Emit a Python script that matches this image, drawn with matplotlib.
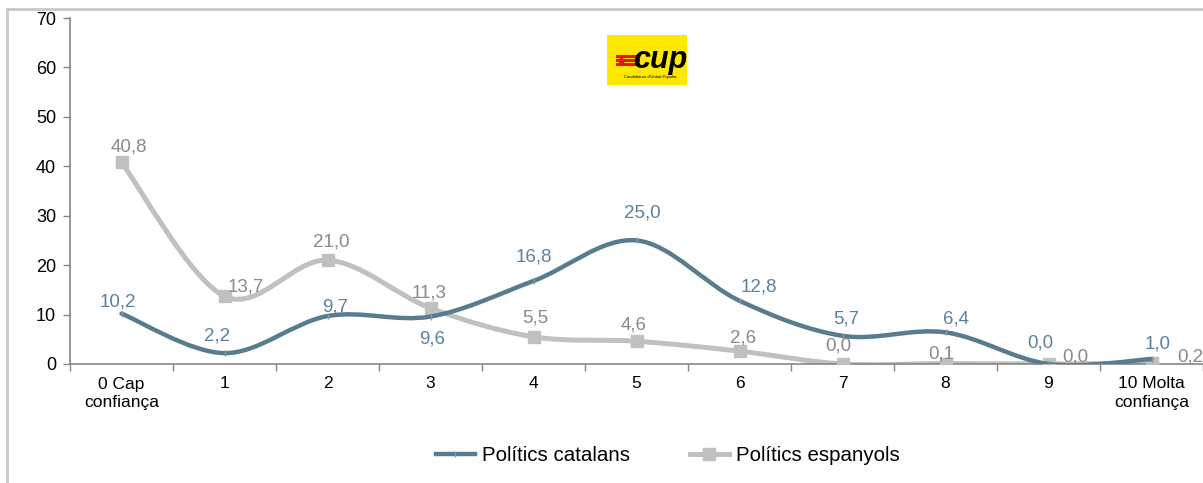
import matplotlib
matplotlib.use("Agg")
import matplotlib.pyplot as plt
import numpy as np
from matplotlib.path import Path
from matplotlib.patches import PathPatch, Rectangle
from matplotlib.lines import Line2D

plt.rcParams["font.family"] = ["Liberation Sans", "DejaVu Sans"]

categories = ["0 Cap\nconfiança", "1", "2", "3", "4", "5", "6", "7", "8", "9", "10 Molta\nconfiança"]
catalans = [10.2, 2.2, 9.7, 9.6, 16.8, 25.0, 12.8, 5.7, 6.4, 0.0, 1.0]
espanyols = [40.8, 13.7, 21.0, 11.3, 5.5, 4.6, 2.6, 0.0, 0.1, 0.0, 0.2]
series_names = ["Polítics catalans", "Polítics espanyols"]

# desplaçament de cada etiqueta respecte del punt, en píxels (dx, amunt)
cat_label_off = [(-4, 12), (-7, 17), (8, 9), (2, -22), (0, 24), (6, 27), (19, 14),
                 (4, 17), (10, 13), (-8, 21), (6, 15)]
esp_label_off = [(7, 15), (21, 9), (4, 18), (-1, 15), (2, 19), (-3, 16), (4, 13),
                 (-4, 18), (-4, 10), (27, 7), (39, 6)]

BLUE = "#587b90"
BLUE_TXT = "#5b8299"
GREY = "#c0c0c0"
GREY_TXT = "#8a8a8a"
AXIS = "#868686"


def smooth_path(xs, ys):
    """Corba suavitzada estil Excel: Bézier cúbica a partir dels punts."""
    pts = np.column_stack([xs, ys]).astype(float)
    n = len(pts)
    verts = [pts[0]]
    codes = [Path.MOVETO]
    for i in range(n - 1):
        p0 = pts[max(i - 1, 0)]
        p1 = pts[i]
        p2 = pts[i + 1]
        p3 = pts[min(i + 2, n - 1)]
        verts += [p1 + (p2 - p0) / 6, p2 - (p3 - p1) / 6, p2]
        codes += [Path.CURVE4] * 3
    return Path(verts, codes)


W, H = 1203, 483
fig = plt.figure(figsize=(W / 100, H / 100), dpi=100)
fig.patch.set_facecolor("white")

# marc exterior del gràfic
fig.add_artist(Line2D([7 / W, 7 / W], [0, 1 - 9 / H], color="#c8c8c8", lw=2))
fig.add_artist(Line2D([7 / W, 1], [1 - 9 / H, 1 - 9 / H], color="#c8c8c8", lw=2))

ax = fig.add_axes([70 / W, 119 / H, (W - 70) / W, 346 / H])
x = np.arange(len(categories))

ax.add_patch(PathPatch(smooth_path(x, espanyols), fill=False, edgecolor=GREY, lw=3.6,
                       capstyle="round", zorder=2))
ax.plot(x, espanyols, linestyle="none", marker="s", markersize=8.5, color=GREY, zorder=3)
ax.add_patch(PathPatch(smooth_path(x, catalans), fill=False, edgecolor=BLUE, lw=3.2,
                       capstyle="round", zorder=4))
ax.plot(x, catalans, linestyle="none", marker="|", markersize=4, mew=1, color="#7f9bad", zorder=5)

for xi, v, (dx, dy) in zip(x, catalans, cat_label_off):
    ax.annotate(f"{v:.1f}".replace(".", ","), (xi, v), xytext=(dx * 0.72, dy * 0.72),
                textcoords="offset points", ha="center", va="center",
                fontsize=13.5, color=BLUE_TXT, zorder=6, annotation_clip=False)
for xi, v, (dx, dy) in zip(x, espanyols, esp_label_off):
    ax.annotate(f"{v:.1f}".replace(".", ","), (xi, v), xytext=(dx * 0.72, dy * 0.72),
                textcoords="offset points", ha="center", va="center",
                fontsize=13.5, color=GREY_TXT, zorder=6, annotation_clip=False)

ax.set_xlim(-0.5, len(categories) - 0.5)
ax.set_ylim(0, 70)
ax.set_yticks(range(0, 71, 10))
ax.set_xticks(x)
ax.set_xticklabels(categories, linespacing=1.25)
ax.set_xticks(np.arange(-0.5, len(categories), 1.0), minor=True)
ax.tick_params(axis="x", which="major", length=0, pad=9, labelsize=12.5)
ax.tick_params(axis="x", which="minor", length=5, width=1, color=AXIS)
ax.tick_params(axis="y", length=5, width=1, color=AXIS, labelsize=13, pad=5)
for side in ["top", "right"]:
    ax.spines[side].set_visible(False)
for side in ["left", "bottom"]:
    ax.spines[side].set_color(AXIS)
    ax.spines[side].set_linewidth(1.2)

handles = [
    Line2D([], [], color=BLUE, lw=3.2, marker="|", markersize=4, mew=1, markeredgecolor="#7f9bad"),
    Line2D([], [], color=GREY, lw=3.6, marker="s", markersize=8, markerfacecolor=GREY),
]
fig.legend(handles, series_names, loc="center", bbox_to_anchor=(0.555, 0.056), ncol=2,
           frameon=False, fontsize=14.8, handlelength=1.9, handletextpad=0.35, columnspacing=2.9)

# logotip CUP
fig.add_artist(Rectangle((607 / W, 1 - 85 / H), 80 / W, 50 / H, facecolor="#ffe800",
                         edgecolor="none"))
for k, yy in enumerate([56, 60, 64]):
    fig.add_artist(Line2D([617 / W, 638 / W], [1 - yy / H, 1 - yy / H],
                          color="#e3171b", lw=2.2))
fig.add_artist(Line2D([621 / W], [1 - 60 / H], marker="*", markersize=6, color="#e3171b",
                      markeredgecolor="#e3171b"))
fig.text(660 / W, 1 - 60 / H, "cup", ha="center", va="center", fontsize=22,
         fontweight="bold", style="italic", color="black")
fig.text(650 / W, 1 - 77 / H, "Candidatura d'Unitat Popular", ha="center", va="center",
         fontsize=3, color="black")

fig.savefig("out.png", dpi=100)
